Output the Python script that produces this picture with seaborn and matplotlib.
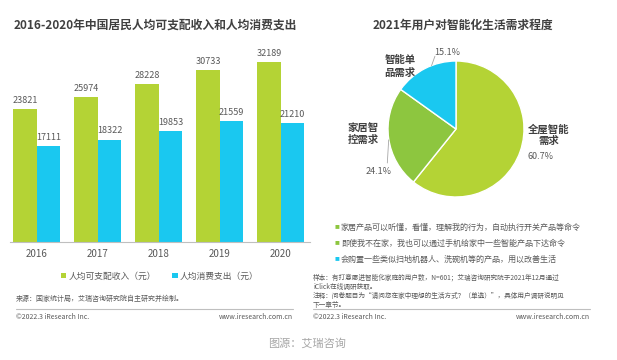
import matplotlib
matplotlib.use("Agg")
import matplotlib.pyplot as plt
import numpy as np
import pandas as pd
import seaborn as sns
from matplotlib.lines import Line2D

years = ["2016", "2017", "2018", "2019", "2020"]
income = [23821, 25974, 28228, 30733, 32189]
spending = [17111, 18322, 19853, 21559, 21210]
series_names = ["人均可支配收入（元）", "人均消费支出（元）"]

pie_labels = ["全屋智能\n需求", "家居智\n控需求", "智能单\n品需求"]
pie_values = [60.7, 24.1, 15.1]

bullets = [
    "家居产品可以听懂，看懂，理解我的行为，自动执行开关产品等命令",
    "即使我不在家，我也可以通过手机给家中一些智能产品下达命令",
    "会购置一些类似扫地机器人、洗碗机等的产品，用以改善生活",
]

GREEN = "#b4d335"
DGREEN = "#8dc63f"
BLUE = "#1ac8f0"
TXT = "#404040"
GRAY = "#595959"

sns.set_theme(style="white")
plt.rcParams["font.family"] = ["Noto Sans CJK SC", "DejaVu Sans"]

df = pd.DataFrame({
    "year": years * 2,
    "value": income + spending,
    "series": [series_names[0]] * len(years) + [series_names[1]] * len(years),
})

fig = plt.figure(figsize=(6.17, 3.6), dpi=100, facecolor="white")

# left: bar chart
ax = fig.add_axes([10 / 617, 118 / 360, 300 / 617, 192 / 360])
sns.barplot(data=df, x="year", y="value", hue="series", palette=[GREEN, BLUE],
            width=0.77, saturation=1, linewidth=0, ax=ax)
for cont in ax.containers:
    ax.bar_label(cont, fmt="%d", padding=3, fontsize=6.5, color=GRAY)
ax.set_ylim(0, max(income) * 192 / 180)
ax.set_xlim(-0.44, 4.48)
ax.set_xlabel("")
ax.set_ylabel("")
ax.set_yticks([])
ax.tick_params(axis="x", length=0, pad=5, labelsize=7, labelcolor=GRAY)
for s in ["top", "right", "left"]:
    ax.spines[s].set_visible(False)
ax.spines["bottom"].set_color("#bfbfbf")
ax.spines["bottom"].set_linewidth(0.8)
handles, labels = ax.get_legend_handles_labels()
ax.legend(handles, labels, loc="center", bbox_to_anchor=(0.5, -0.177), ncol=2,
          frameon=False, fontsize=6.3, handlelength=0.6, handleheight=0.6,
          handletextpad=0.3, columnspacing=1.8, labelcolor=GRAY)

fig.text(14 / 617, 1 - 25 / 360, "2016-2020年中国居民人均可支配收入和人均消费支出",
         fontsize=8.5, fontweight="bold", color=TXT, va="center", ha="left")

# right: pie chart
pax = fig.add_axes([(456 - 102) / 617, (360 - 129 - 102) / 360, 204 / 617, 204 / 360])
wedges, _ = pax.pie(pie_values, colors=[GREEN, DGREEN, BLUE], startangle=90,
                    counterclock=False, wedgeprops=dict(edgecolor="white", linewidth=1))
pax.set_xlim(-1.5, 1.5)
pax.set_ylim(-1.5, 1.5)
pax.set_aspect("equal")
pax.axis("off")

# label positions in pie units (radius = 1)
name_pos = [(1.36, -0.09), (-1.37, -0.07), (-0.82, 0.92)]
pct_pos = [(1.24, -0.41), (-1.14, -0.63), (-0.13, 1.13)]
for i, w in enumerate(wedges):
    pax.text(*name_pos[i], pie_labels[i], ha="center", va="center", fontsize=7.5,
             fontweight="bold", color=TXT, linespacing=1.25)
    pax.text(*pct_pos[i], f"{pie_values[i]}%", ha="center", va="center",
             fontsize=6.5, color=GRAY)
pax.plot([-0.99, -1.01], [-0.16, -0.5], color="#a6a6a6", lw=0.6)
pax.plot([-0.31, -0.36], [1.07, 0.93], color="#a6a6a6", lw=0.6)

fig.text(463 / 617, 1 - 25 / 360, "2021年用户对智能化生活需求程度",
         fontsize=8.5, fontweight="bold", color=TXT, va="center", ha="center")

for i, b in enumerate(bullets):
    y = 1 - (227 + 16 * i) / 360
    fig.text(335 / 617, y, "■", fontsize=3.5, color=BLUE if i == 2 else DGREEN,
             va="center", ha="left")
    fig.text(341 / 617, y, b, fontsize=5.8, color=GRAY, va="center", ha="left")

note = ("样本：有打意愿进智能化家庭的用户数，N=601；艾瑞咨询研究院于2021年12月通过\n"
        "iClick在线调研获取。\n"
        "注释：问卷题目为“请问您在家中理想的生活方式？（单选）”，具体用户调研说明见\n"
        "下一章节。")
fig.text(313 / 617, 1 - 274 / 360, note, fontsize=4.8, color=GRAY, va="top",
         ha="left", linespacing=1.15)

# footers
fig.text(16 / 617, 1 - 299 / 360, "来源：国家统计局，艾瑞咨询研究院自主研究并绘制。",
         fontsize=5, color=GRAY, va="center", ha="left")
for x0, x1 in [(16, 293), (313, 590)]:
    fig.add_artist(Line2D([x0 / 617, x1 / 617], [1 - 309 / 360] * 2,
                          color="#bfbfbf", lw=0.8))
    fig.text(x0 / 617, 1 - 317 / 360, "©2022.3 iResearch Inc.", fontsize=5,
             color=GRAY, va="center", ha="left")
    fig.text(x1 / 617, 1 - 317 / 360, "www.iresearch.com.cn", fontsize=5,
             color=GRAY, va="center", ha="right")

fig.text(307 / 617, 1 - 343 / 360, "图源：艾瑞咨询", fontsize=8, color="#a6a6a6",
         va="center", ha="center")

fig.savefig("out.png", dpi=100, facecolor="white")
